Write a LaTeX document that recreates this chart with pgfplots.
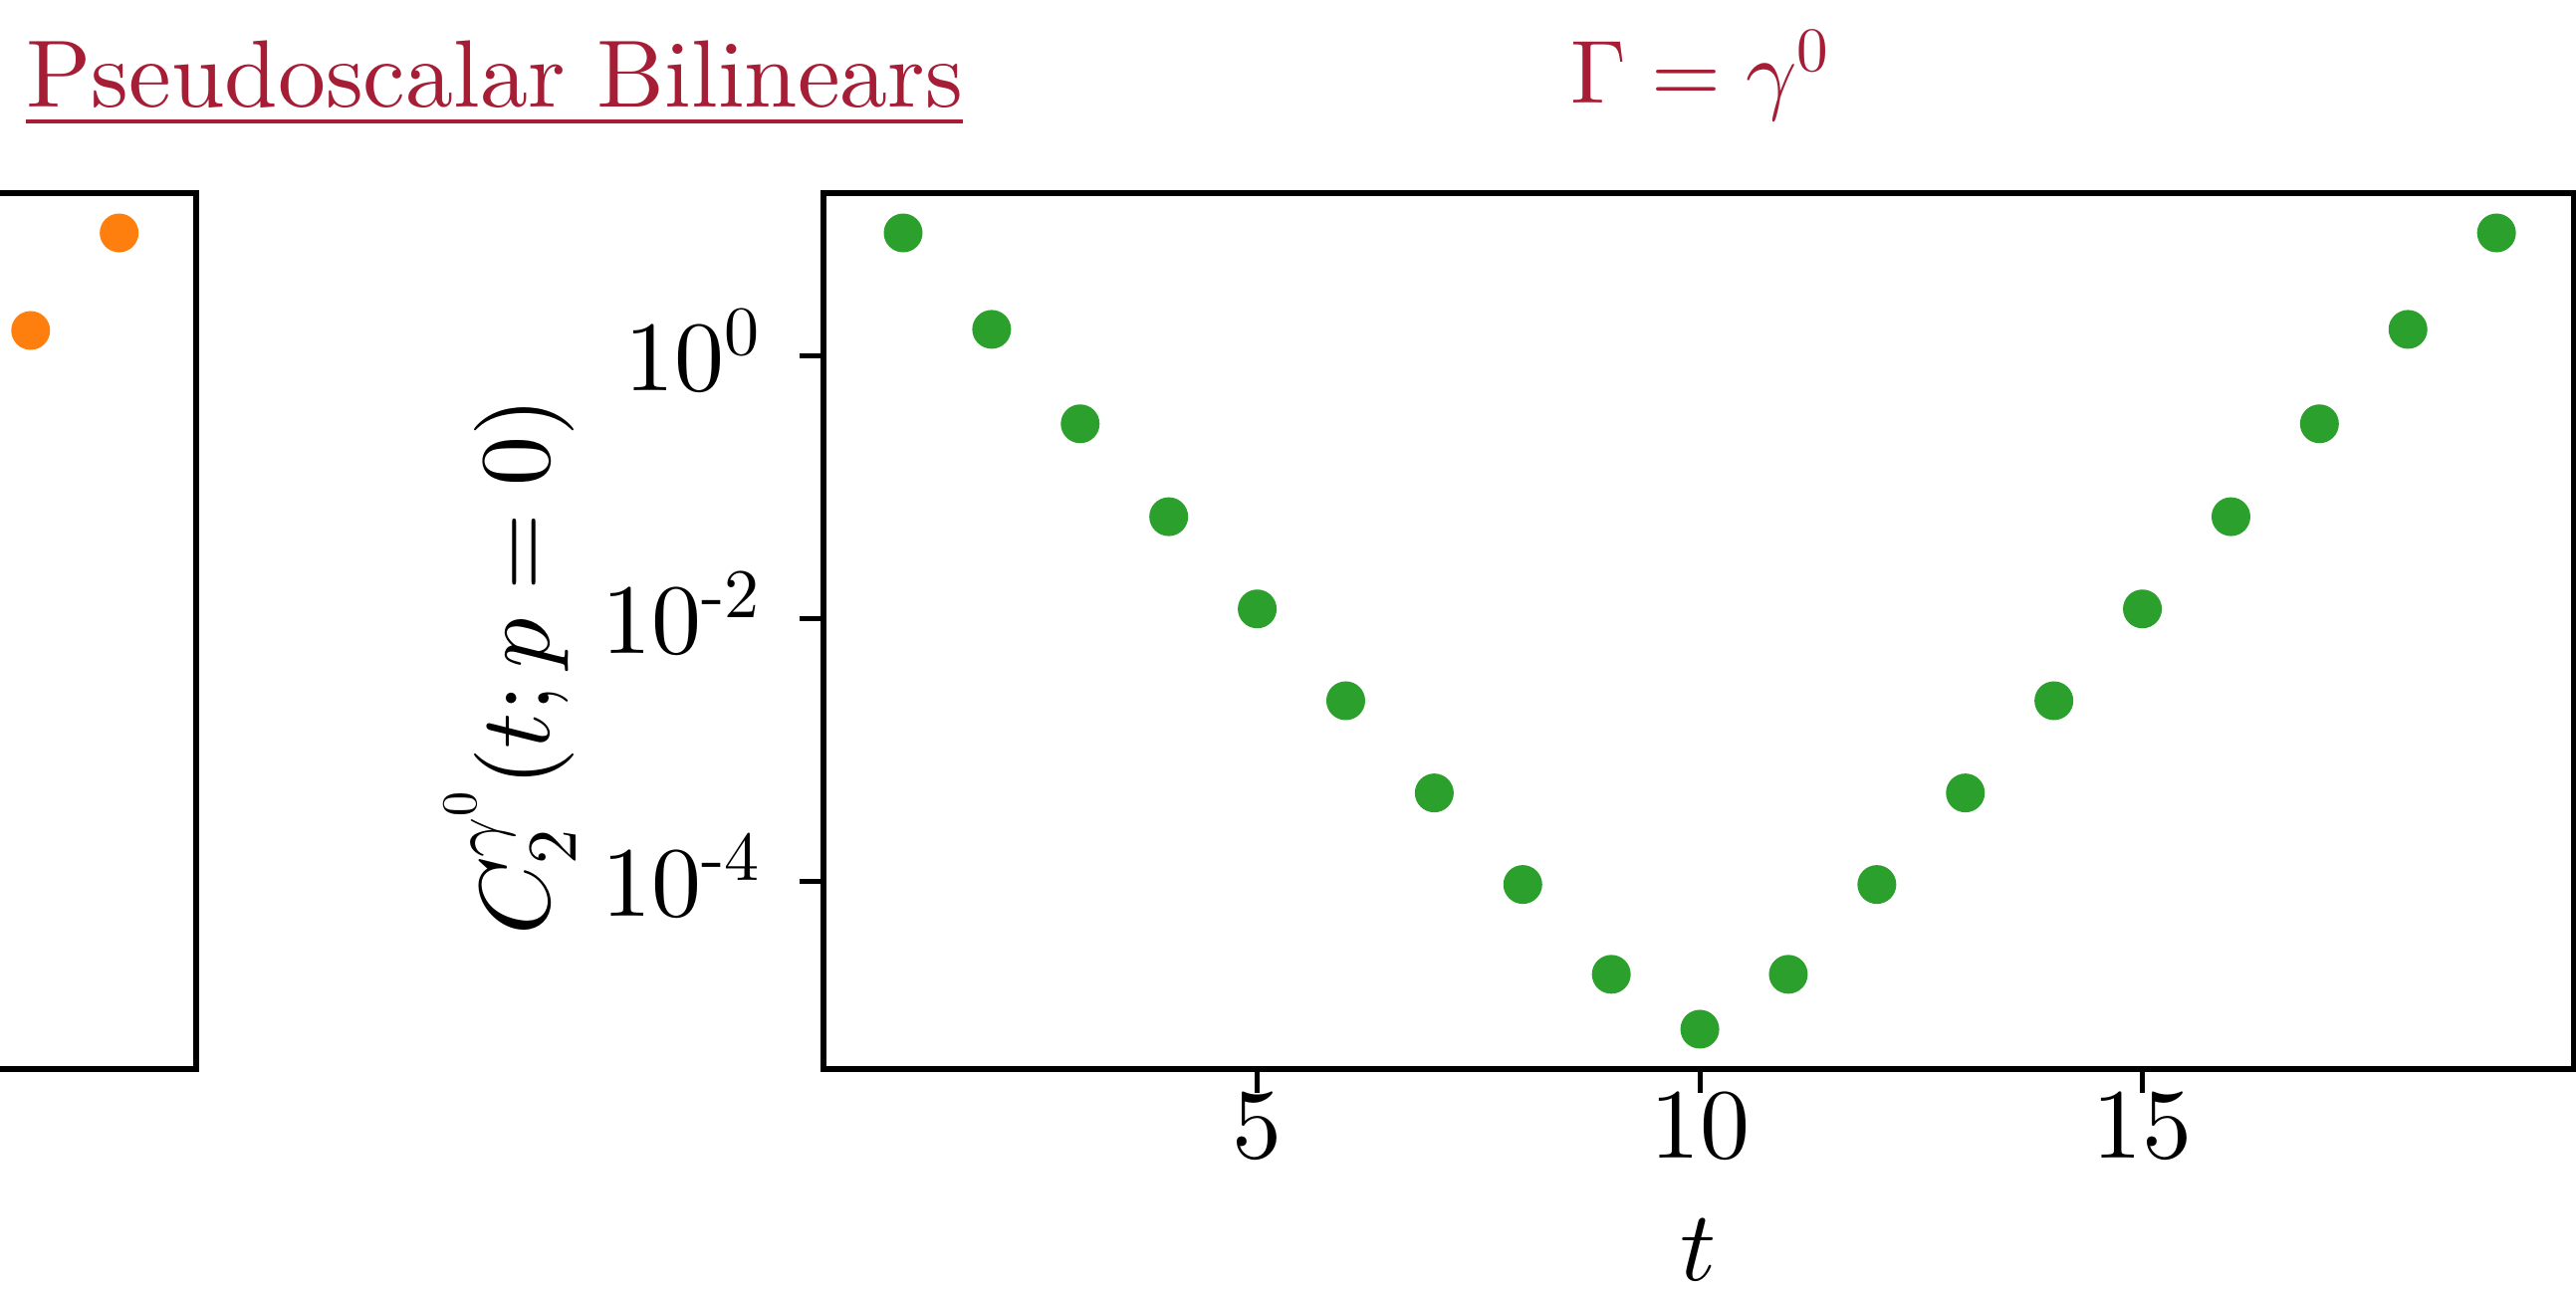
\documentclass[border=0pt]{standalone}
\usepackage{amsmath}
\usepackage{pgfplots}
\pgfplotsset{compat=1.18}

% use the 10pt designs of the text and math fonts at every size
\DeclareFontShape{TU}{lmr}{m}{n}{<-> "[lmroman10-regular]:+tlig;"}{}
\DeclareFontFamily{OT1}{cmr}{\hyphenchar\font45 }
\DeclareFontShape{OT1}{cmr}{m}{n}{<-> cmr10}{}
\DeclareFontFamily{OML}{cmm}{\skewchar\font127 }
\DeclareFontShape{OML}{cmm}{m}{it}{<-> cmmi10}{}
\DeclareFontFamily{OMS}{cmsy}{\skewchar\font48 }
\DeclareFontShape{OMS}{cmsy}{m}{n}{<-> cmsy10}{}
\DeclareFontFamily{OMX}{cmex}{}
\DeclareFontShape{OMX}{cmex}{m}{n}{<-> cmex10}{}

\definecolor{titlered}{RGB}{165,30,54}
\definecolor{tabgreen}{HTML}{2CA02C}
\definecolor{taborange}{HTML}{FF7F0E}

% two-point correlator of the gamma^0 bilinear at zero momentum
\pgfplotstableread{
t   C
1   8.67
2   1.60
3   0.306
4   0.0601
5   0.01194
6   0.00239
7   4.75e-4
8   9.55e-5
9   1.98e-5
10  7.57e-6
11  1.98e-5
12  9.55e-5
13  4.75e-4
14  0.00239
15  0.01194
16  0.0601
17  0.306
18  1.60
19  8.67
}\corrgzero

% last time slices of the neighbouring panel
\pgfplotstableread{
t   C
18  1.57
19  8.67
}\corrprev

\newcommand{\labfont}{\fontsize{20}{24}\selectfont}

\pgfplotsset{
  corrpanel/.style={
    scale only axis,
    width=351.5pt, height=176pt,
    xmin=0.1, xmax=19.87,
    ymin=3.767e-6, ymax=17.42,
    axis line style={line width=1.2pt, black},
    tick style={line width=1pt, black},
    major tick length=4.8pt,
    tick align=outside,
    xtick pos=left, ytick pos=left,
    yminorticks=false,
    tick label style={font=\labfont},
    label style={font=\labfont},
    clip=false,
  },
}

\begin{document}
\begin{tikzpicture}
\useasboundingbox (0,0) rectangle (517.4pt,259.6pt);
\clip (0,0) rectangle (517.4pt,259.6pt);

% neighbouring panel, only its right edge is in view
\begin{axis}[ymode=log, corrpanel,
  at={(39.4pt,44.8pt)}, anchor=south east,
  xtick=\empty, ytick=\empty]
\addplot[only marks, mark=*, mark size=3.7pt, color=taborange,
  mark options={draw=none, fill=taborange}] table[x=t, y=C] {\corrprev};
\end{axis}

\begin{axis}[ymode=log, corrpanel,
  at={(165.4pt,44.8pt)}, anchor=south west,
  xtick={5,10,15},
  ytick={1e-4,1e-2,1},
  yticklabels={$10^{\text{-}4}$,$10^{\text{-}2}$,$10^{0}$},
  yticklabel style={anchor=base east, inner sep=0pt, xshift=-7.3pt, yshift=-7pt},
  xticklabel style={anchor=north, inner sep=0pt},
  xlabel={$t$},
  xlabel style={at={(axis description cs:0.5,0)}, anchor=base, inner sep=0pt, yshift=-42.4pt},
  ylabel={$C_2^{\gamma^0}(t;p=0)$},
  ylabel style={at={(axis description cs:-0.1565,0.7682)}, anchor=base east, inner sep=0pt},
]
\addplot[only marks, mark=*, mark size=3.7pt, color=tabgreen,
  mark options={draw=none, fill=tabgreen}] table[x=t, y=C] {\corrgzero};
\end{axis}

\node[anchor=base west, inner sep=0pt, text=titlered, font=\fontsize{19.2}{23}\selectfont]
  at (5.1pt,238.1pt) {\underline{Pseudoscalar Bilinears}};
\node[anchor=base, inner sep=0pt, text=titlered, font=\fontsize{18}{22}\selectfont]
  at (341.6pt,238.8pt) {$\Gamma=\gamma^0$};
\end{tikzpicture}
\end{document}
